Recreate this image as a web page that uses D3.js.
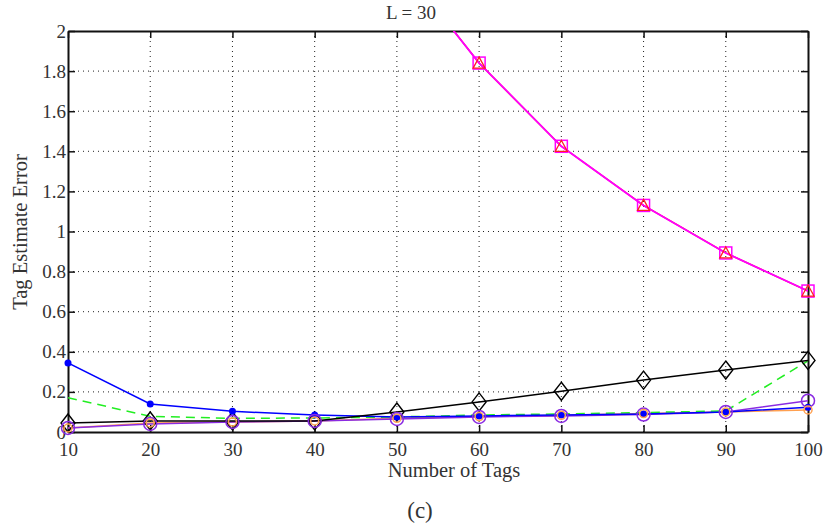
<!DOCTYPE html>
<html>
<head>
<meta charset="utf-8">
<script src="https://cdn.jsdelivr.net/npm/d3@7"></script>
<style>
  body { margin: 0; background: #fff; }
  svg text { font-family: "Times New Roman", "Liberation Serif", Times, serif; fill: #333; }
</style>
</head>
<body>
<div id="chart"></div>
<script>
var tags = [10, 20, 30, 40, 50, 60, 70, 80, 90, 100];

// series values
var magentaSq = [6.5, 5.2, 4.1, 3.1, 2.36, 1.84, 1.425, 1.13, 0.893, 0.703];
var redTri = [6.5, 5.2, 4.1, 3.1, 2.36, 1.84, 1.425, 1.13, 0.893, 0.703];
var blackDia = [0.045, 0.055, 0.055, 0.055, 0.1, 0.15, 0.203, 0.259, 0.309, 0.357];
var blueDot = [0.344, 0.14, 0.103, 0.085, 0.075, 0.08, 0.085, 0.09, 0.1, 0.123];
var greenDash = [0.171, 0.078, 0.068, 0.07, 0.075, 0.085, 0.09, 0.097, 0.105, 0.355];
var purpleCirc = [0.02, 0.04, 0.05, 0.055, 0.065, 0.075, 0.08, 0.087, 0.1, 0.156];
var orangeMk = [0.02, 0.045, 0.05, 0.055, 0.068, 0.077, 0.083, 0.092, 0.1, 0.11];

var xTicks = [10, 20, 30, 40, 50, 60, 70, 80, 90, 100];
var yTicks = [0, 0.2, 0.4, 0.6, 0.8, 1, 1.2, 1.4, 1.6, 1.8, 2];

var w = 830, h = 528;
var pl = 68, pr = 808, pt = 31, pb = 432;

var x = d3.scaleLinear().domain([10, 100]).range([pl, pr]);
var y = d3.scaleLinear().domain([0, 2]).range([pb, pt]);

var svg = d3.select("#chart").append("svg").attr("width", w).attr("height", h);

svg.append("defs").append("clipPath").attr("id", "clip")
  .append("rect").attr("x", pl).attr("y", pt)
  .attr("width", pr - pl).attr("height", pb - pt);

// grid
var grid = svg.append("g").attr("stroke", "#222").attr("stroke-width", 1)
  .attr("stroke-dasharray", "1,4");
grid.selectAll(".gx").data(xTicks.slice(1, -1)).enter().append("line")
  .attr("x1", d => x(d)).attr("x2", d => x(d)).attr("y1", pt).attr("y2", pb);
grid.selectAll(".gy").data(yTicks.slice(1, -1)).enter().append("line")
  .attr("y1", d => y(d)).attr("y2", d => y(d)).attr("x1", pl).attr("x2", pr);

// axes (matlab style box with inner ticks)
var fmt = d => (d === 0 ? "0" : d3.format("~g")(d));
var xAxis = svg.append("g").attr("transform", "translate(0," + pb + ")")
  .call(d3.axisBottom(x).tickValues(xTicks).tickSizeInner(-7).tickSizeOuter(0).tickPadding(11));
var xAxisTop = svg.append("g").attr("transform", "translate(0," + pt + ")")
  .call(d3.axisTop(x).tickValues(xTicks).tickSizeInner(-7).tickSizeOuter(0).tickFormat(""));
var yAxis = svg.append("g").attr("transform", "translate(" + pl + ",0)")
  .call(d3.axisLeft(y).tickValues(yTicks).tickFormat(fmt).tickSizeInner(-7).tickSizeOuter(0).tickPadding(2));
var yAxisR = svg.append("g").attr("transform", "translate(" + pr + ",0)")
  .call(d3.axisRight(y).tickValues(yTicks).tickSizeInner(-7).tickSizeOuter(0).tickFormat(""));

[xAxis, xAxisTop, yAxis, yAxisR].forEach(function (g) {
  g.attr("font-family", null);
  g.select(".domain").attr("stroke", "#111").attr("stroke-width", 2);
  g.selectAll(".tick line").attr("stroke", "#111").attr("stroke-width", 1.5);
  g.selectAll("text").attr("font-size", 19);
});

var lines = svg.append("g").attr("clip-path", "url(#clip)");
var line = d3.line().x((d, i) => x(tags[i])).y(d => y(d));

function series(vals, color, width, dash) {
  lines.append("path").datum(vals).attr("d", line).attr("fill", "none")
    .attr("stroke", color).attr("stroke-width", width)
    .attr("stroke-dasharray", dash || null);
}

series(orangeMk, "#ffa050", 1.5);
series(purpleCirc, "#8a2be2", 1.5);
series(greenDash, "#22ee22", 1.5, "9,6");
series(blueDot, "#0000ff", 1.5);
series(blackDia, "#000", 1.5);
series(redTri, "#ff2020", 1.5);
series(magentaSq, "#ff00ff", 1.8);

var marks = svg.append("g");
var pts = (vals) => vals.map((v, i) => ({ t: tags[i], v: v })).filter(d => d.v <= 2);

// black diamonds
marks.selectAll(".dia").data(pts(blackDia)).enter().append("path")
  .attr("d", "M0,-9L7,0L0,9L-7,0Z")
  .attr("transform", d => "translate(" + x(d.t) + "," + y(d.v) + ")")
  .attr("fill", "none").attr("stroke", "#000").attr("stroke-width", 1.4);

// blue dots
marks.selectAll(".dot").data(pts(blueDot)).enter().append("circle")
  .attr("cx", d => x(d.t)).attr("cy", d => y(d.v)).attr("r", 3.5).attr("fill", "#0000ff");

// purple circles
marks.selectAll(".circ").data(pts(purpleCirc)).enter().append("circle")
  .attr("cx", d => x(d.t)).attr("cy", d => y(d.v)).attr("r", 6.5)
  .attr("fill", "none").attr("stroke", "#8a2be2").attr("stroke-width", 1.5);

// orange markers
marks.selectAll(".org").data(pts(orangeMk)).enter().append("circle")
  .attr("cx", d => x(d.t)).attr("cy", d => y(d.v)).attr("r", 4)
  .attr("fill", "none").attr("stroke", "#ffa050").attr("stroke-width", 1.5);

// magenta squares
marks.selectAll(".sq").data(pts(magentaSq)).enter().append("rect")
  .attr("x", d => x(d.t) - 6).attr("y", d => y(d.v) - 6).attr("width", 12).attr("height", 12)
  .attr("fill", "none").attr("stroke", "#ff00ff").attr("stroke-width", 1.5);

// red triangles
marks.selectAll(".tri").data(pts(redTri)).enter().append("path")
  .attr("d", "M0,-6L6,5L-6,5Z")
  .attr("transform", d => "translate(" + x(d.t) + "," + y(d.v) + ")")
  .attr("fill", "none").attr("stroke", "#ff2020").attr("stroke-width", 1.3);

// labels
svg.append("text").attr("x", 411).attr("y", 19).attr("text-anchor", "middle")
  .attr("font-size", 19).text("L = 30");
svg.append("text").attr("x", 454).attr("y", 477).attr("text-anchor", "middle")
  .attr("font-size", 20.5).text("Number of Tags");
svg.append("text").attr("transform", "translate(27,232) rotate(-90)")
  .attr("text-anchor", "middle").attr("font-size", 20.5).text("Tag Estimate Error");
svg.append("text").attr("x", 420).attr("y", 518).attr("text-anchor", "middle")
  .attr("font-size", 23).text("(c)");
</script>
</body>
</html>
